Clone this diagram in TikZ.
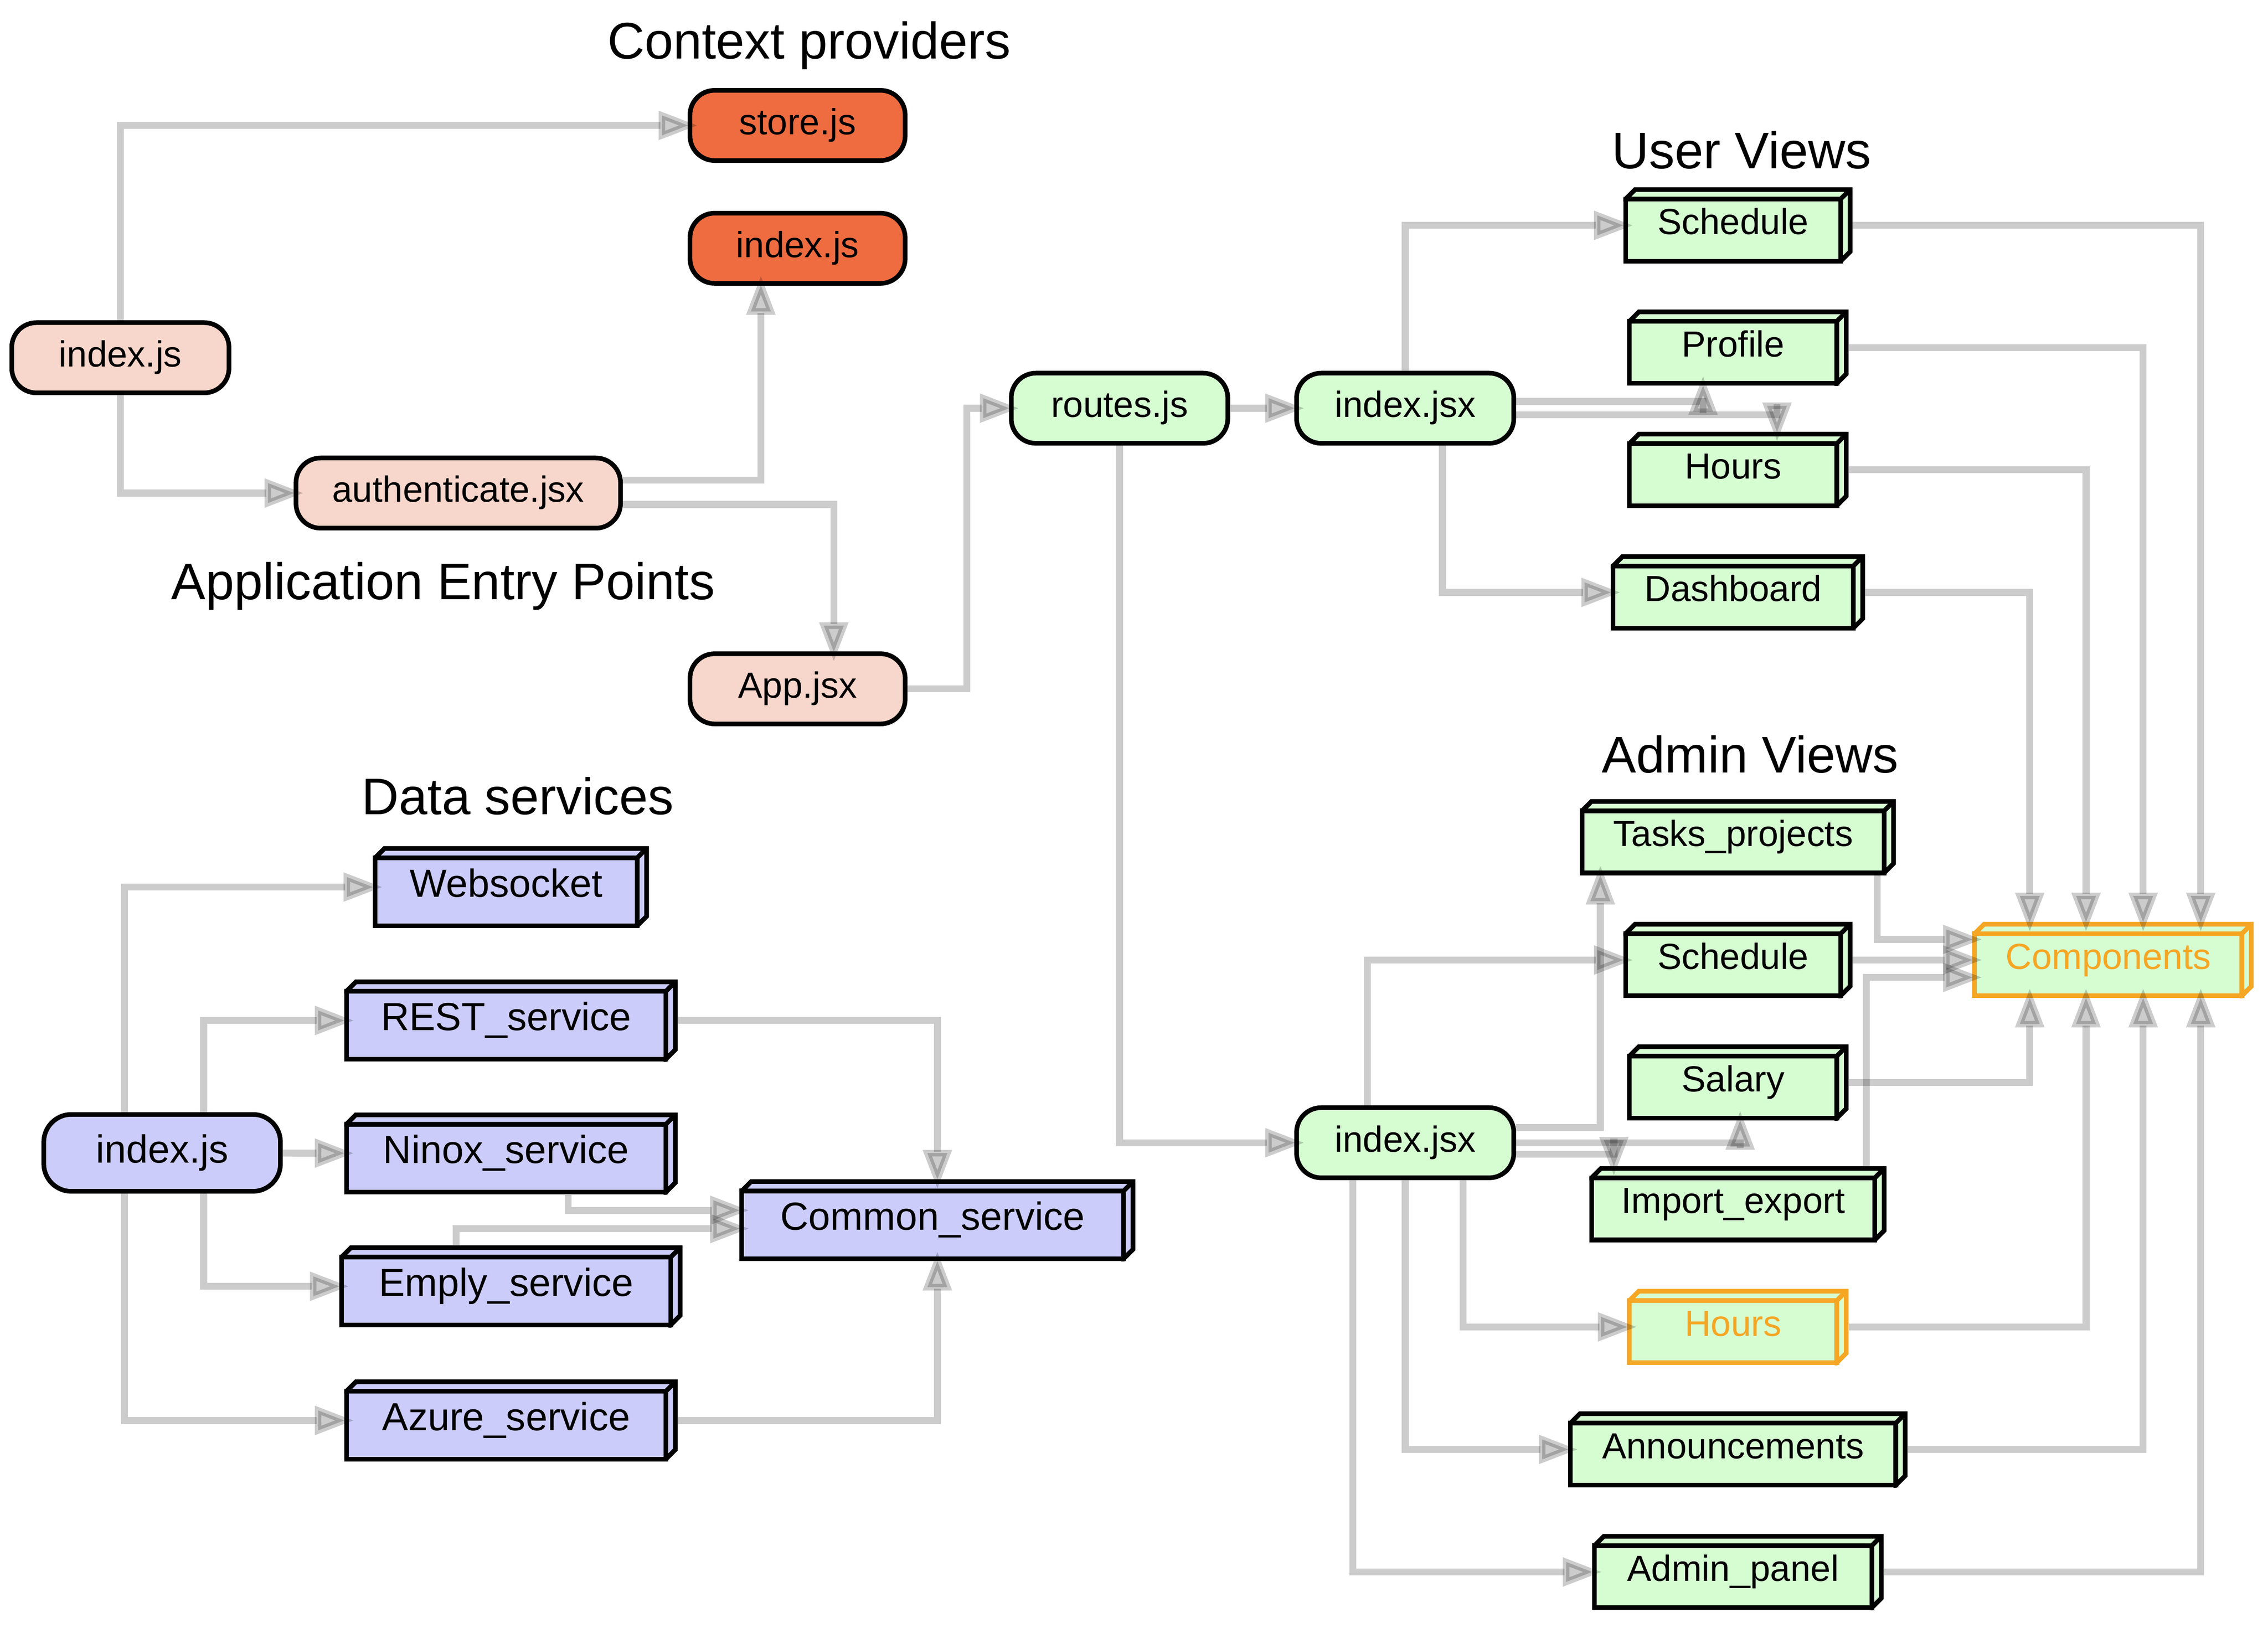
\documentclass[tikz,border=0pt]{standalone}
\usepackage{fontspec}
\setmainfont{Liberation Sans}
\usetikzlibrary{arrows.meta}
\definecolor{entfill}{RGB}{247,214,203}
\definecolor{ctxfill}{RGB}{238,108,64}
\definecolor{viewfill}{RGB}{214,252,210}
\definecolor{datafill}{RGB}{204,204,250}
\definecolor{hilite}{RGB}{245,166,35}

\begin{document}
\begin{tikzpicture}[x=1pt, y=-1pt,
  rnd/.style={draw, line width=3.2pt, rounded corners=17pt, fill=#1, minimum width=148.4pt,
    minimum height=48.4pt, inner sep=0pt, font=\fontsize{25}{30}\selectfont,
    text height=18.75pt, text depth=6.25pt},
  bx/.style 2 args={rectangle, inner sep=0pt, minimum height=52.5pt,
    font=\fontsize{25}{30}\selectfont, text height=18.75pt, text depth=6.25pt,
    execute at begin node={\hspace*{-6.5pt}},
    path picture={
      \coordinate (sw) at ([shift={(1.6pt,1.6pt)}]path picture bounding box.south west);
      \coordinate (ne) at ([shift={(-1.6pt,-1.6pt)}]path picture bounding box.north east);
      \filldraw[fill=#1, draw=#2, line width=3.2pt] (sw) rectangle ([shift={(-6.5pt,-6.5pt)}]ne);
      \filldraw[fill=#1, draw=#2, line width=3.2pt] ([yshift=-6.5pt]sw |- ne) -- ([xshift=6.5pt]sw |- ne)
        -- (ne) -- ([yshift=6.5pt]ne |- sw) -- ([xshift=-6.5pt]ne |- sw) -- ([shift={(-6.5pt,-6.5pt)}]ne)
        -- cycle ([shift={(-6.5pt,-6.5pt)}]ne) -- (ne);}},
  dsz/.style={font=\fontsize{27}{32}\selectfont, text height=20.25pt, text depth=6.75pt},
  dep/.style={draw=black, opacity=.2, line width=4.8pt, shorten >=-7pt,
    -{Triangle[length=27pt, width=19pt, line width=4.5pt]}},
  ttl/.style={anchor=base, font=\fontsize{35.5}{42}\selectfont}]
  \useasboundingbox (0,0) rectangle (1564,1122.4);
  %Cluster titles
  \node[ttl] at (558,40.4) {Context providers};
  \node[ttl] at (305.6,413.4) {Application Entry Points};
  \node[ttl] at (1201,116.3) {User Views};
  \node[ttl] at (1207,533) {Admin Views};
  \node[ttl] at (357,561.7) {Data services};
  %Entry points, context and routing
  \node[rnd=ctxfill] (store) at (550,86.5) {store.js};
  \node[rnd=ctxfill] (ctxidx) at (550,171.2) {index.js};
  \node[rnd=entfill, minimum width=149.8pt] (entidx) at (83,246.7) {index.js};
  \node[rnd=entfill, minimum width=223.8pt] (auth) at (316,340) {authenticate.jsx};
  \node[rnd=entfill] (app) at (550,475) {App.jsx};
  \node[rnd=viewfill, minimum width=149.3pt] (routes) at (772,281.5) {routes.js};
  \node[rnd=viewfill, minimum width=149.8pt] (usridx) at (969,281.5) {index.jsx};
  \node[rnd=viewfill, minimum width=149.8pt] (admidx) at (969,788) {index.jsx};
  %User and admin views
  \foreach \n/\t/\w/\y in {usched/Schedule/158/155.4, uprof/Profile/152.7/239.7,
      uhours/Hours/152.7/324, udash/Dashboard/175.4/408.5}
    \node[bx={viewfill}{black}, minimum width=\w pt] (\n) at (1198.4,\y) {\t};
  \foreach \n/\t/\w/\y/\c in {atasks/Tasks\_projects/218/577.3/black, asched/Schedule/158/662/black,
      asalary/Salary/152.7/746.4/black, aimport/Import\_export/205/830.4/black,
      ahours/Hours/152.7/915/hilite, aann/Announcements/234/999.5/black,
      apanel/Admin\_panel/201/1084/black}
    \node[bx={viewfill}{\c}, text=\c, minimum width=\w pt] (\n) at (1198.4,\y) {\t};
  \node[bx={viewfill}{hilite}, text=hilite, minimum width=194pt] (comp) at (1457.1,662) {Components};
  %Data services
  \node[rnd=datafill, dsz, minimum width=163.2pt, minimum height=53pt, rounded corners=19pt]
    (dataidx) at (111.8,795) {index.js};
  \foreach \n/\t/\w/\y in {dws/Websocket/190.4/611.7, drest/REST\_service/230/703.7,
      dninox/Ninox\_service/230/795.4, demply/Emply\_service/236.7/887,
      dazure/Azure\_service/230/979.5}
    \node[bx={datafill}{black}, dsz, minimum height=56.5pt, minimum width=\w pt] (\n) at (352.3,\y) {\t};
  \node[bx={datafill}{black}, dsz, minimum height=56.5pt, minimum width=273pt] (dcommon) at (646.4,841.4) {Common\_service};

  \draw[dep] (entidx) |- (store);
  \draw[dep] (entidx) |- (auth);
  \draw[dep] ([yshift=9pt]auth.east) -| ([xshift=-25.3pt]ctxidx.south);
  \draw[dep] ([yshift=-7.8pt]auth.east) -| ([xshift=25pt]app.north);
  \draw[dep] (app) -| ([xshift=-29pt]routes.west) |- (routes);
  \draw[dep] (routes) -- (usridx);
  \draw[dep] (routes) |- (admidx);
  \draw[dep] (usridx) |- (usched);
  \draw[dep] ([yshift=4.7pt]usridx.east) -| ([xshift=-24pt]uprof.south);
  \draw[dep] ([yshift=-4.5pt]usridx.east) -| ([xshift=27pt]uhours.north);
  \draw[dep] ([xshift=25.7pt]usridx.south) |- (udash);
  \draw[dep] ([yshift=10.5pt]admidx.east) -| ([xshift=-94.8pt]atasks.south);
  \draw[dep] ([xshift=-26pt]admidx.north) |- (asched);
  \draw[dep] (admidx) -| ([xshift=1.6pt]asalary.south);
  \draw[dep] ([yshift=-8pt]admidx.east) -| ([xshift=-85.5pt]aimport.north);
  \draw[dep] ([xshift=40pt]admidx.south) |- (ahours);
  \draw[dep] (admidx) |- (aann);
  \draw[dep] ([xshift=-36pt]admidx.south) |- (apanel);
  %Everything ends in the components
  \foreach \n/\s in {usched/60.5, uprof/20.8, uhours/-18.6, udash/-57.4}
    \draw[dep] (\n) -| ([xshift=\s pt]comp.north);
  \foreach \n/\s in {asalary/-57.4, ahours/-18.6, aann/20.8, apanel/60.5}
    \draw[dep] (\n) -| ([xshift=\s pt]comp.south);
  \draw[dep] ([xshift=96.2pt]atasks.south) |- ([yshift=14.2pt]comp.west);
  \draw[dep] (asched) -- (comp);
  \draw[dep] ([xshift=88.6pt]aimport.north) |- ([yshift=-12pt]comp.west);
  \draw[dep] ([xshift=-26pt]dataidx.north) |- (dws);
  \draw[dep] ([xshift=28.6pt]dataidx.north) |- (drest);
  \draw[dep] (dataidx) -- (dninox);
  \draw[dep] ([xshift=28.6pt]dataidx.south) |- (demply);
  \draw[dep] ([xshift=-26pt]dataidx.south) |- (dazure);
  \draw[dep] (drest) -| (dcommon);
  \draw[dep] (dazure) -| (dcommon);
  \draw[dep] ([xshift=39.5pt]dninox.south) |- ([yshift=6.8pt]dcommon.west);
  \draw[dep] ([xshift=-37.8pt]demply.north) |- ([yshift=-5.8pt]dcommon.west);
\end{tikzpicture}
\end{document}
